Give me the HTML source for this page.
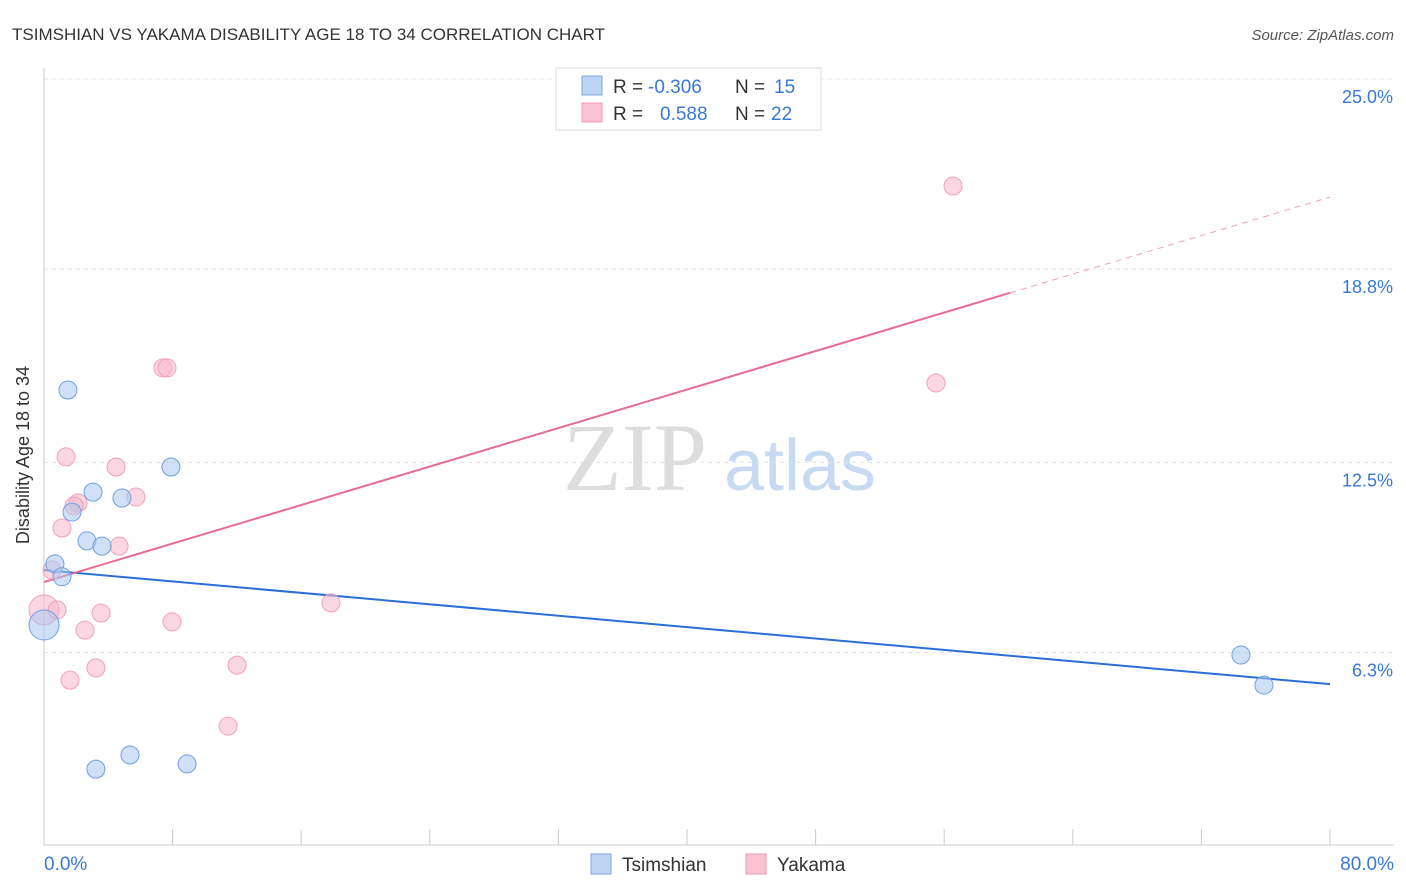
<!DOCTYPE html>
<html><head><meta charset="utf-8"><style>
body{margin:0;background:#fff;font-family:"Liberation Sans",sans-serif;}
svg{display:block}
</style></head><body>
<svg id="chart" width="1406" height="892" xmlns="http://www.w3.org/2000/svg">
<text x="12" y="40" font-size="17" fill="#333">TSIMSHIAN VS YAKAMA DISABILITY AGE 18 TO 34 CORRELATION CHART</text>
<text x="1394" y="40" font-size="15" fill="#555" font-style="italic" text-anchor="end">Source: ZipAtlas.com</text>
<g>
<text x="635" y="490" font-size="96" fill="#ddd" font-family="Liberation Serif,serif" text-anchor="middle">ZIP</text>
<text x="800" y="490" font-size="72" fill="#c8daf2" text-anchor="middle">atlas</text>
</g>
<g id="grid"></g>
<g id="axes"></g>
<g id="lines"></g>
<g id="points"></g>
<text x="29" y="455" font-size="18" fill="#333" text-anchor="middle" transform="rotate(-90 29 455)">Disability Age 18 to 34</text>
<text x="44" y="870" font-size="19" fill="#3a78d4">0.0%</text>
<text x="1394" y="870" font-size="19" fill="#3a78d4" text-anchor="end">80.0%</text>
<g>
<rect x="556" y="68" width="265" height="62" fill="#fff" stroke="#ddd"/>
<rect x="582" y="76" width="20" height="19" fill="#bcd5f5" stroke="#7ea8e4"/>
<rect x="582" y="103" width="20" height="19" fill="#fac3d4" stroke="#f09ab7"/>
<text x="613" y="93" font-size="19" fill="#333">R = </text><text x="648" y="93" font-size="19" fill="#3a78d4">-0.306</text>
<text x="735" y="93" font-size="19" fill="#333">N = </text><text x="774" y="93" font-size="19" fill="#3a78d4">15</text>
<text x="613" y="120" font-size="19" fill="#333">R = </text><text x="660" y="120" font-size="19" fill="#3a78d4">0.588</text>
<text x="735" y="120" font-size="19" fill="#333">N = </text><text x="771" y="120" font-size="19" fill="#3a78d4">22</text>
</g>
<g>
<rect x="591" y="854" width="20" height="20" fill="#bcd5f5" stroke="#7ea8e4"/>
<text x="622" y="871" font-size="19" fill="#333">Tsimshian</text>
<rect x="746" y="854" width="20" height="20" fill="#fac3d4" stroke="#f09ab7"/>
<text x="777" y="871" font-size="19" fill="#333">Yakama</text>
</g>
</svg>
<script>
const yTicks=[25.0,18.8,12.5,6.3];
const yTickLabels=["25.0%","18.8%","12.5%","6.3%"];
const tsX=[1.49,0.68,1.12,0,1.74,3.05,2.67,3.61,4.85,7.90,5.35,3.23,8.90,74.46,75.89];
const tsY=[14.86,9.19,8.77,7.20,10.88,11.53,9.94,9.77,11.34,12.35,2.96,2.50,2.67,6.22,5.24];
const yaX=[56.55,55.49,7.40,7.65,1.37,4.48,5.72,2.12,1.87,1.12,4.67,0.50,0,0.81,3.55,17.85,7.96,2.55,12.01,3.23,1.62,11.45];
const yaY=[21.51,15.09,15.58,15.58,12.68,12.35,11.37,11.18,11.08,10.36,9.77,8.99,7.69,7.69,7.59,7.92,7.30,7.03,5.89,5.80,5.40,3.90];
const tsTrend=[8.99,5.27];      // value at x=0, x=80
const yaTrend=[8.60,21.15];     // value at x=0, x=80
const yaSolidEnd=60.1;
const NS="http://www.w3.org/2000/svg";
const X=v=>44+v*(1286/80);
const Y=v=>79+(25-v)*(191.7/6.25);
function mk(tag,attrs,parent){const e=document.createElementNS(NS,tag);for(const k in attrs)e.setAttribute(k,attrs[k]);document.getElementById(parent).appendChild(e);return e;}
yTicks.forEach((t,i)=>{
 const l=mk('line',{x1:44,x2:1394,y1:Y(t),y2:Y(t),stroke:'#e4e4e4','stroke-dasharray':'4,4'},'grid');
 
 
 const tx=mk('text',{x:1393,y:Y(t)+24,'font-size':18,fill:'#3a78d4','text-anchor':'end'},'grid');
 tx.textContent=yTickLabels[i];
 
 
});
const ax=mk('line',{x1:44,x2:44,y1:68,y2:845,stroke:'#ccc'},'axes');


const bx=mk('line',{x1:44,x2:1394,y1:845,y2:845,stroke:'#ccc'},'axes');


for(let i=0;i<=10;i++){
 const t=mk('line',{x1:X(i*8),x2:X(i*8),y1:829,y2:845,stroke:'#ccc'},'axes');
 
 
}
const tl=mk('line',{x1:X(0),y1:Y(tsTrend[0]),x2:X(80),y2:Y(tsTrend[1]),stroke:'#2a6fd6','stroke-width':2},'lines');


const yAt=x=>yaTrend[0]+(yaTrend[1]-yaTrend[0])*x/80;
const pl=mk('line',{x1:X(0),y1:Y(yaTrend[0]),x2:X(yaSolidEnd),y2:Y(yAt(yaSolidEnd)),stroke:'#e86a95','stroke-width':2},'lines');


const pd=mk('line',{x1:X(yaSolidEnd),y1:Y(yAt(yaSolidEnd)),x2:X(80),y2:Y(yaTrend[1]),stroke:'#f0a0b8','stroke-width':1,'stroke-dasharray':'6,5'},'lines');


yaX.forEach((x,i)=>{
 const c=mk('circle',{cx:X(x),cy:Y(yaY[i]),r:x===0?15:9,fill:'rgba(248,182,204,0.55)',stroke:'#f0a0ba','stroke-width':1},'points');
 
 
});
tsX.forEach((x,i)=>{
 const c=mk('circle',{cx:X(x),cy:Y(tsY[i]),r:x===0?15:9,fill:'rgba(170,200,240,0.55)',stroke:'#6fa0e0','stroke-width':1},'points');
 
 
});
</script>
</body></html>
